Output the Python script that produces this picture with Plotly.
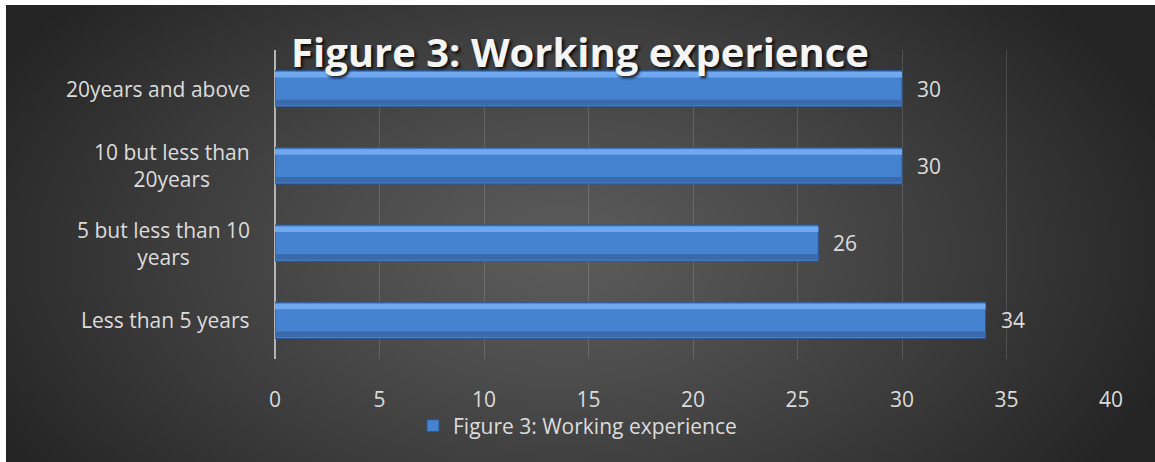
import base64, struct, zlib
import numpy as np
import plotly.graph_objects as go

# ---------------- data ----------------
categories = ["Less than 5 years", "5 but less than 10<br>years",
              "10 but less than<br>20years", "20years and above"]
values = [34, 26, 30, 30]
series_name = "Figure 3: Working experience"
x_ticks = [0, 5, 10, 15, 20, 25, 30, 35, 40]

W, H = 1155, 462
FONT = "Open Sans, Noto Sans, DejaVu Sans, sans-serif"
TXT = "#dcdcdc"

# ---------------- background gradient (decoration) ----------------
def gradient_png(w, h):
    yy, xx = np.mgrid[0:h, 0:w].astype(float)
    sx, sy = 1149 / w, 457 / h
    px, py = xx * sx + 6, yy * sy + 5
    r = np.sqrt(((px - 560) / 650) ** 2 + ((py - 250) / 390) ** 2)
    r = np.clip(r, 0, 1) ** 1.15
    v = (92 - 56 * r).astype(np.uint8)
    arr = np.stack([v, v, v], axis=-1)
    raw = b"".join(b"\x00" + arr[i].tobytes() for i in range(h))

    def chunk(tag, data):
        return (struct.pack(">I", len(data)) + tag + data +
                struct.pack(">I", zlib.crc32(tag + data) & 0xFFFFFFFF))
    png = (b"\x89PNG\r\n\x1a\n" +
           chunk(b"IHDR", struct.pack(">IIBBBBB", w, h, 8, 2, 0, 0, 0)) +
           chunk(b"IDAT", zlib.compress(raw, 9)) + chunk(b"IEND", b""))
    return "data:image/png;base64," + base64.b64encode(png).decode()

bg = gradient_png(383, 152)

# ---------------- figure ----------------
fig = go.Figure()
fig.add_trace(go.Bar(
    x=values, y=categories, orientation="h", name=series_name,
    width=0.47, offset=-0.235,
    marker=dict(color="#4582d0", line=dict(color="#2b5690", width=1)),
    hoverinfo="skip", showlegend=True))
# highlight band (top) and shade band (bottom) of the bevelled bars
fig.add_trace(go.Bar(
    x=values, y=categories, orientation="h", width=0.07, offset=0.145,
    marker=dict(color="#70a9ef", line=dict(width=0)),
    hoverinfo="skip", showlegend=False))
fig.add_trace(go.Bar(
    x=values, y=categories, orientation="h", width=0.07, offset=-0.215,
    marker=dict(color="#3a6aac", line=dict(width=0)),
    hoverinfo="skip", showlegend=False))

# value labels
for c, v in zip(categories, values):
    fig.add_annotation(x=v, y=c, xref="x", yref="y", text=str(v),
                       showarrow=False, xanchor="left", xshift=13,
                       font=dict(family=FONT, size=21, color=TXT))
# category labels (centred multi-line)
for c in categories:
    fig.add_annotation(x=252 / W, y=c, xref="paper", yref="y", text=c,
                       showarrow=False, xanchor="right", align="center",
                       font=dict(family=FONT, size=21, color=TXT))

fig.update_layout(
    width=W, height=H, autosize=False, margin=dict(l=0, r=0, t=0, b=0, pad=0),
    paper_bgcolor="white", plot_bgcolor="rgba(0,0,0,0)",
    barmode="overlay",
    images=[dict(source=bg, xref="paper", yref="paper",
                 x=6 / W, y=1 - 5 / H, sizex=1 - 6 / W, sizey=1 - 5 / H,
                 xanchor="left", yanchor="top", sizing="stretch",
                 layer="below")],
    title=dict(text="<b>" + series_name + "</b>", x=580 / W, xanchor="center",
               xref="paper", yref="paper", y=1 - 53 / H, yanchor="middle",
               automargin=False,
               font=dict(family=FONT, size=40, color="#f5f5f5",
                         shadow="2px 2px 3px rgba(0,0,0,0.85)")),
    xaxis=dict(domain=[275 / W, 1111 / W], range=[0, 40], automargin=False,
               tickvals=x_ticks, ticktext=[str(t) for t in x_ticks],
               showgrid=True, gridcolor="rgba(255,255,255,0.14)", gridwidth=1,
               zeroline=True, zerolinecolor="#b4b4b4", zerolinewidth=2,
               showline=False, ticks="", ticklabelstandoff=26,
               tickfont=dict(family=FONT, size=21, color=TXT), fixedrange=True),
    yaxis=dict(domain=[1 - 359 / H, 1 - 50 / H], showticklabels=False,
               automargin=False,
               showgrid=False, zeroline=False, showline=False, ticks="",
               categoryorder="array", categoryarray=categories,
               fixedrange=True),
    legend=dict(orientation="h", x=413 / W, xanchor="left",
                y=1 - 426 / H, yanchor="middle", bgcolor="rgba(0,0,0,0)",
                font=dict(family=FONT, size=21, color=TXT)),
    showlegend=True,
)

fig.write_html("out.html")
